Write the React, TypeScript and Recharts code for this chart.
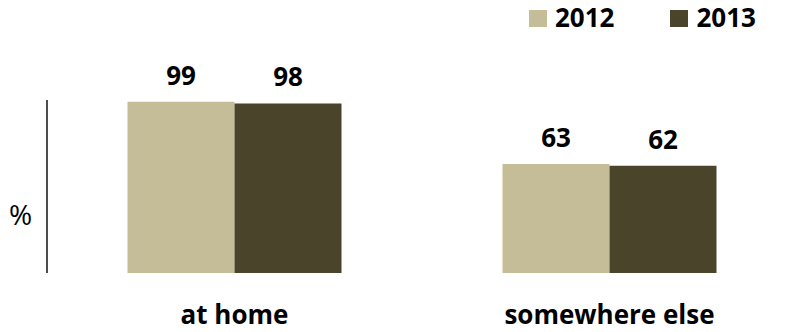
import * as React from 'react'
import { BarChart, Bar, XAxis, YAxis, Legend, LabelList } from 'recharts'

const places = ['at home', 'somewhere else']
const years = ['2012', '2013']
const values2012 = [99, 63]
const values2013 = [98, 62]
const colors = ['#C4BD97', '#4A452A']

const data = places.map((place, i) => ({
  place,
  '2012': values2012[i],
  '2013': values2013[i],
}))

const font = '"Open Sans", sans-serif'

function YearLegend() {
  return (
    <div style={{ display: 'flex', alignItems: 'flex-end', fontFamily: font, fontWeight: 700, fontSize: 26, lineHeight: '26px', color: '#000' }}>
      {years.map((year, i) => (
        <div key={year} style={{ display: 'flex', alignItems: 'flex-end', marginRight: i === 0 ? 56 : 0 }}>
          <span style={{ display: 'inline-block', width: 18, height: 17, background: colors[i], marginRight: 8, marginBottom: 3 }} />
          <span>{year}</span>
        </div>
      ))}
    </div>
  )
}

export default function App() {
  return (
    <div style={{ position: 'absolute', left: 0, top: 0, width: 798, height: 332, background: '#fff' }}>
      <BarChart
        width={798}
        height={332}
        data={data}
        margin={{ top: 100, right: 1, left: 0, bottom: 0 }}
        barCategoryGap={80.5}
        barGap={0}
      >
        <XAxis
          dataKey="place"
          axisLine={false}
          tickLine={false}
          tickSize={0}
          tickMargin={33}
          height={59}
          tick={{ fill: '#000', fontFamily: font, fontWeight: 700, fontSize: 26 }}
        />
        <YAxis
          domain={[0, 100]}
          width={47}
          tick={false}
          tickLine={false}
          axisLine={{ stroke: '#111', strokeWidth: 1.5 }}
          label={{ value: '%', position: 'insideLeft', offset: 9, dy: 29, fill: '#000', fontFamily: font, fontSize: 28 }}
        />
        <Legend
          verticalAlign="top"
          align="left"
          content={() => <YearLegend />}
          wrapperStyle={{ position: 'absolute', left: 529, top: 4, height: 0, width: 'auto' }}
        />
        {years.map((year, i) => (
          <Bar key={year} dataKey={year} fill={colors[i]} isAnimationActive={false}>
            <LabelList dataKey={year} position="top" offset={17} fill="#000" fontFamily={font} fontWeight={700} fontSize={26} />
          </Bar>
        ))}
      </BarChart>
    </div>
  )
}
